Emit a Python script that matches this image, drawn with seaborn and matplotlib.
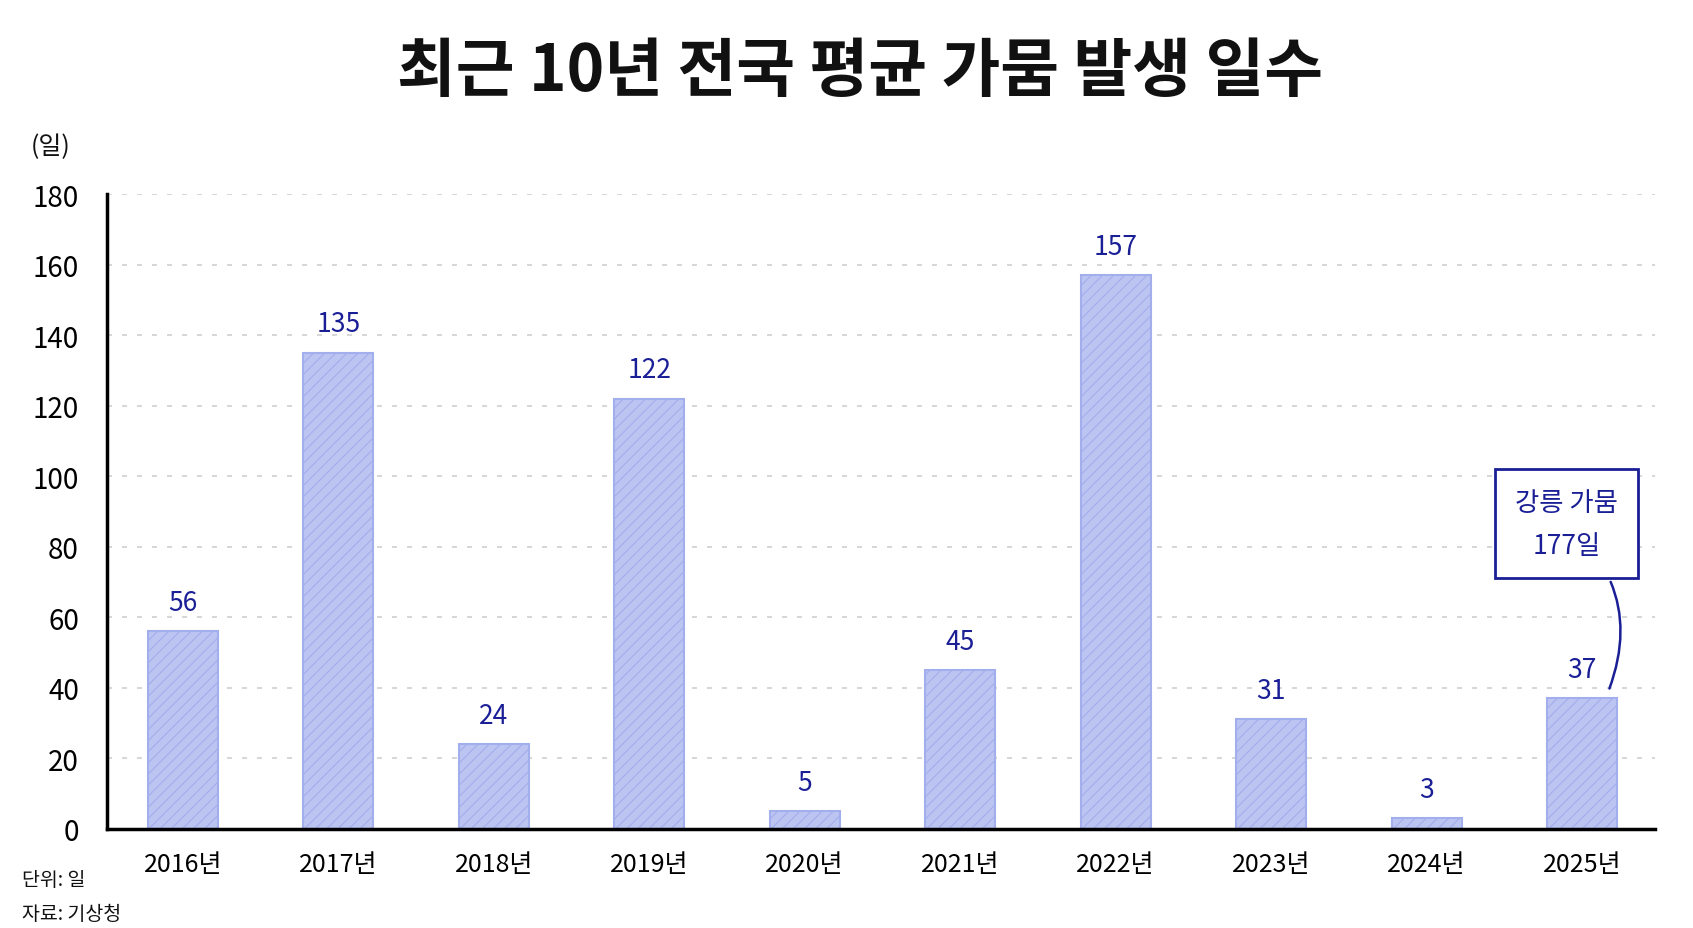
"""Recent 10-year national average drought days bar chart."""

import matplotlib
matplotlib.use("Agg")
import matplotlib.pyplot as plt
import pandas as pd
import seaborn as sns

YEARS = ["2016년", "2017년", "2018년", "2019년", "2020년",
         "2021년", "2022년", "2023년", "2024년", "2025년"]
DAYS = [56, 135, 24, 122, 5, 45, 157, 31, 3, 37]
Y_TICKS = [0, 20, 40, 60, 80, 100, 120, 140, 160, 180]

TITLE = "최근 10년 전국 평균 가뭄 발생 일수"
UNIT_LABEL = "(일)"
NOTE_UNIT = "단위: 일"
NOTE_SOURCE = "자료: 기상청"
CALLOUT = "강릉 가뭄\n177일"

NAVY = "#1b1f96"
BAR_FACE = "#bcc4f2"
BAR_EDGE = "#a3aeec"

sns.set_style("white")
plt.rcParams["font.family"] = ["Noto Sans CJK KR", "DejaVu Sans"]
plt.rcParams["hatch.linewidth"] = 0.8

df = pd.DataFrame({"year": YEARS, "days": DAYS})

fig = plt.figure(figsize=(16.93, 9.29), dpi=100)
ax = fig.add_axes([0.063, 0.107, 0.9146, 0.683])

sns.barplot(data=df, x="year", y="days", color=BAR_FACE, width=0.45,
            saturation=1, edgecolor=BAR_EDGE, linewidth=1.5, hatch="///",
            ax=ax)

ax.bar_label(ax.containers[0], padding=11, fontsize=19, color=NAVY)

ax.set_ylim(0, 180)
ax.set_xlim(-0.49, 9.47)
ax.set_yticks(Y_TICKS)
ax.set_xlabel("")
ax.set_ylabel("")

ax.yaxis.grid(True, color="#cfcfcf", linestyle=(0, (3, 6)), linewidth=1.2)
ax.set_axisbelow(True)

for side in ["top", "right"]:
    ax.spines[side].set_visible(False)
for side in ["left", "bottom"]:
    ax.spines[side].set_color("black")
    ax.spines[side].set_linewidth(2.5)

ax.tick_params(axis="y", direction="inout", length=12, width=2,
               labelsize=20, pad=14, colors="black")
ax.tick_params(axis="x", length=0, labelsize=18, pad=16, colors="black")

ax.annotate(CALLOUT, xy=(9.17, 39), xytext=(8.9, 86.5),
            ha="center", va="center", fontsize=19, color=NAVY,
            linespacing=1.75,
            bbox=dict(boxstyle="square,pad=0.75", fc="white", ec=NAVY, lw=2),
            arrowprops=dict(arrowstyle="-", color=NAVY, lw=1.8,
                            connectionstyle="arc3,rad=-0.35"))

fig.text(0.508, 0.922, TITLE, ha="center", va="center",
         fontsize=46, fontweight="bold", color="#111111")
fig.text(0.030, 0.842, UNIT_LABEL, ha="center", va="center",
         fontsize=18, color="#111111")
fig.text(0.013, 0.052, NOTE_UNIT, ha="left", va="center",
         fontsize=14, color="#111111")
fig.text(0.013, 0.016, NOTE_SOURCE, ha="left", va="center",
         fontsize=14, color="#111111")

fig.savefig("out.png", dpi=100, facecolor="white")
